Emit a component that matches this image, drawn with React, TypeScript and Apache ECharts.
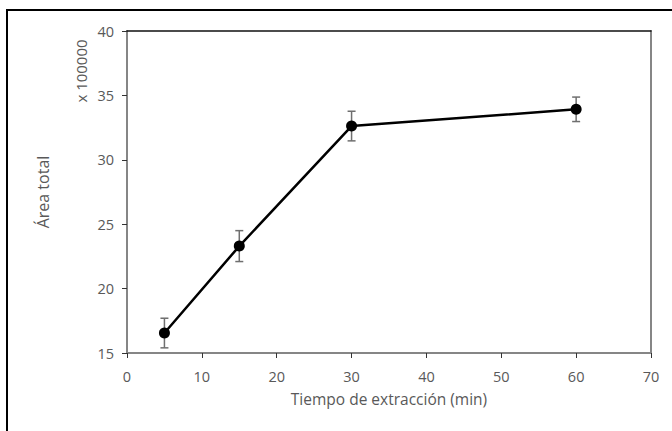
import React, { useEffect, useRef } from "react";
import * as echarts from "echarts";

const times = [5, 15, 30, 60];
const areas = [16.55, 23.3, 32.62, 33.92];
const errors = [1.15, 1.2, 1.15, 0.95];
const xTicks = { min: 0, max: 70, interval: 10 };
const yTicks = { min: 15, max: 40, interval: 5 };

const FONT = "'Open Sans', 'Noto Sans', sans-serif";
const GRAY_TEXT = "#595959";
const AXIS_GRAY = "#868686";

export default function App() {
  const ref = useRef<HTMLDivElement>(null);
  useEffect(() => {
    if (!ref.current) return;
    const chart = echarts.init(ref.current, undefined, { renderer: "svg" });
    const lineData = times.map((t, i) => [t, areas[i]]);
    const errData = times.map((t, i) => [t, areas[i] - errors[i], areas[i] + errors[i]]);
    chart.setOption({
      animation: false,
      backgroundColor: "#ffffff",
      grid: { left: 127, right: 21, top: 31, bottom: 78 },
      xAxis: [
        {
          type: "value",
          min: xTicks.min,
          max: xTicks.max,
          interval: xTicks.interval,
          name: "Tiempo de extracción (min)",
          nameLocation: "middle",
          nameGap: 38,
          nameTextStyle: { color: GRAY_TEXT, fontFamily: FONT, fontSize: 15.5 },
          axisLine: { show: true, onZero: false, lineStyle: { color: AXIS_GRAY, width: 2 } },
          axisTick: { show: true, length: 5, lineStyle: { color: "#333", width: 1 } },
          axisLabel: { color: GRAY_TEXT, fontFamily: FONT, fontSize: 14.5, margin: 16 },
          splitLine: { show: false },
        },
        {
          type: "value",
          position: "top",
          min: xTicks.min,
          max: xTicks.max,
          axisLine: { show: true, onZero: false, lineStyle: { color: "#111", width: 1.5 } },
          axisTick: { show: false },
          axisLabel: { show: false },
          splitLine: { show: false },
        },
      ],
      yAxis: [
        {
          type: "value",
          min: yTicks.min,
          max: yTicks.max,
          interval: yTicks.interval,
          axisLine: { show: true, onZero: false, lineStyle: { color: AXIS_GRAY, width: 2 } },
          axisTick: { show: true, length: 5, lineStyle: { color: "#333", width: 1 } },
          axisLabel: { color: GRAY_TEXT, fontFamily: FONT, fontSize: 14.5, margin: 13 },
          splitLine: { show: false },
        },
        {
          type: "value",
          position: "right",
          min: yTicks.min,
          max: yTicks.max,
          axisLine: { show: true, onZero: false, lineStyle: { color: AXIS_GRAY, width: 2 } },
          axisTick: { show: false },
          axisLabel: { show: false },
          splitLine: { show: false },
        },
      ],
      graphic: [
        {
          type: "rect",
          shape: { x: 7, y: 10, width: 720, height: 520 },
          style: { fill: "none", stroke: "#000", lineWidth: 2 },
          silent: true,
        },
        {
          type: "text",
          x: 43,
          y: 192,
          rotation: Math.PI / 2,
          style: {
            text: "Área total",
            fill: GRAY_TEXT,
            font: `16px ${FONT}`,
            align: "center",
            verticalAlign: "middle",
          },
        },
        {
          type: "text",
          x: 81,
          y: 71,
          rotation: Math.PI / 2,
          style: {
            text: "x 100000",
            fill: GRAY_TEXT,
            font: `15px ${FONT}`,
            align: "center",
            verticalAlign: "middle",
          },
        },
      ],
      series: [
        {
          type: "custom",
          xAxisIndex: 0,
          yAxisIndex: 0,
          data: errData,
          z: 1,
          renderItem: (params: any, api: any) => {
            const x = api.value(0);
            const lo = api.coord([x, api.value(1)]);
            const hi = api.coord([x, api.value(2)]);
            const w = 4;
            const style = { stroke: "#6f6f6f", lineWidth: 1.5 };
            return {
              type: "group",
              children: [
                { type: "line", shape: { x1: lo[0], y1: lo[1], x2: hi[0], y2: hi[1] }, style },
                { type: "line", shape: { x1: lo[0] - w, y1: lo[1], x2: lo[0] + w, y2: lo[1] }, style },
                { type: "line", shape: { x1: hi[0] - w, y1: hi[1], x2: hi[0] + w, y2: hi[1] }, style },
              ],
            };
          },
        },
        {
          type: "line",
          xAxisIndex: 0,
          yAxisIndex: 0,
          data: lineData,
          z: 3,
          symbol: "circle",
          symbolSize: 11,
          itemStyle: { color: "#000" },
          lineStyle: { color: "#000", width: 2.5 },
        },
      ],
    });
    return () => chart.dispose();
  }, []);
  return (
    <div
      ref={ref}
      style={{ position: "fixed", left: 0, top: 0, width: 672, height: 431 }}
    />
  );
}
